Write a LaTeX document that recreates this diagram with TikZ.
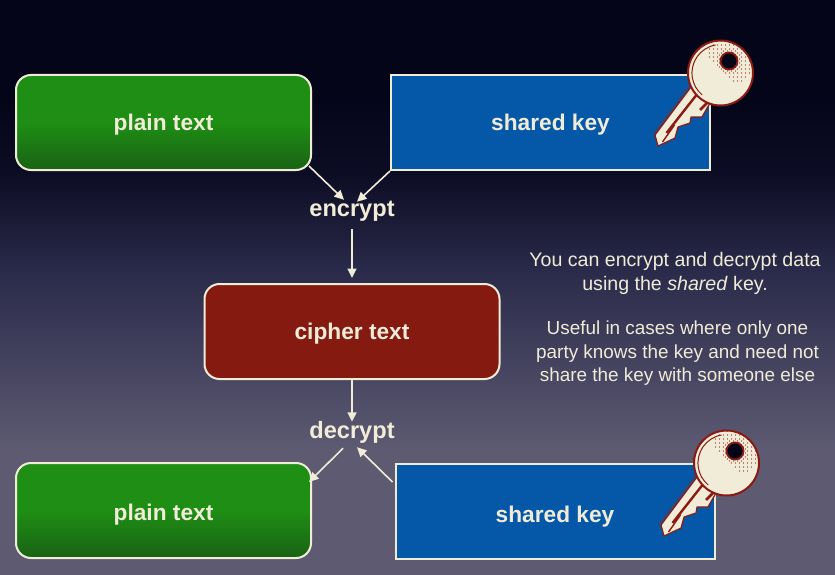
\documentclass[tikz,border=0pt]{standalone}
\usepackage{fontspec}
\setmainfont{Liberation Sans}
\usetikzlibrary{arrows.meta}
\definecolor{cream}{HTML}{F0ECD8}
\definecolor{keyred}{HTML}{8A1A12}
\definecolor{boxred}{HTML}{841A10}
\definecolor{boxblue}{HTML}{0558A8}
\definecolor{bgA}{HTML}{5D5A72}
\definecolor{bgC}{HTML}{2A2A4A}
\definecolor{bgD}{HTML}{0C0C24}
\definecolor{bgE}{HTML}{05051A}
\definecolor{greenT}{HTML}{1E8E14}
\definecolor{greenB}{HTML}{1A6214}
\definecolor{keyshadow}{HTML}{3A4470}
\pgfdeclareverticalshading{bgshade}{100bp}{
 color(0bp)=(bgA);
 color(35.9bp)=(bgA);
 color(51.5bp)=(bgC);
 color(60bp)=(bgD);
 color(66.3bp)=(bgE);
 color(100bp)=(bgE)}
\pgfdeclareverticalshading{greenshade}{100bp}{
 color(0bp)=(greenB);
 color(25bp)=(greenB);
 color(50bp)=(greenT);
 color(100bp)=(greenT)}
\tikzset{
 x=1pt,y=-1pt,
 box/.style={draw=cream,line width=2pt,minimum width=295pt,minimum height=95pt,inner sep=0pt,
   text=cream,font=\fontsize{22.7}{26}\selectfont\bfseries,anchor=center,text height=16pt,text depth=0pt},
 greenbox/.style={box,rounded corners=15pt,shading=greenshade},
 redbox/.style={box,rounded corners=15pt,fill=boxred},
 bluebox/.style={box,minimum width=319pt,fill=boxblue},
 verb/.style={text=cream,font=\fontsize{23.6}{26}\selectfont\bfseries,inner sep=0pt,text height=16pt,text depth=5pt},
 flow/.style={draw=cream,line width=1.6pt,-{Triangle[length=9.5pt,width=9pt]}},
 noteA/.style={text=cream,font=\fontsize{19.6}{23.6}\selectfont,align=center,inner sep=0pt},
 noteB/.style={text=cream,font=\fontsize{18.9}{23.6}\selectfont,align=center,inner sep=0pt},
 keyicon/.pic={
   % blade
   \draw[keyshadow,line width=1.5pt] (-31,13) -- (-67,61);
   \fill[cream,draw=keyred,line width=1.2pt,line join=round]
     (-29.5,14) -- (-65.5,62) -- (-62.5,73) -- (-45.5,65) -- (-42.5,54) -- (-30.5,50) -- (-29.5,44) -- (-18.5,44) -- (-10.5,30) -- cycle;
   \draw[keyred,line width=2.4pt] (-22.5,20) -- (-54,60);
   \draw[keyred,line width=2.6pt] (-11.5,28) -- (-20.5,37);
   \draw[keyred,line width=1.4pt] (-46,52) -- (-58,69);
   % head
   \fill[cream,draw=keyred,line width=2pt] (0,0) circle[radius=32.5];
   \draw[keyred,line width=1pt] (-5,-28) arc[start angle=260,end angle=130,radius=28.5];
   \begin{scope}
     \clip (0,0) circle[radius=32];
     \foreach \i in {-14,...,14}{\foreach \j in {-14,...,14}{
       \pgfmathsetmacro{\dd}{sqrt((\i*2)^2+(\j*2)^2)}
       \pgfmathtruncatemacro{\keep}{(\dd<24)&&(mod(abs(\i+\j),2)==0)&&((\i*2-\j*2)>-20)&&((\dd<13)||(mod(abs(\i),2)==0))}
       \ifnum\keep=1 \fill[keyred] (9+\i*2,-12+\j*2) circle[radius=0.6]; \fi
     }}
   \end{scope}
   \fill[bgE,draw=keyred,line width=1.8pt] (8.5,-12) circle[radius=8.5];
 }
}
\begin{document}
\begin{tikzpicture}
\useasboundingbox (0,0) rectangle (835,575);
\shade[shading=bgshade] (0,0) rectangle (835,575);

\node[greenbox] (plainA) at (163.5,122.5) {plain text};
\node[bluebox]  (sharedA) at (550.5,122.5) {shared key};
\node[redbox]   (cipher) at (352,331.5) {cipher text};
\node[greenbox,text height=19pt] (plainB) at (163.5,510.5) {plain text};
\node[bluebox,text height=22pt]  (sharedB) at (555,511.5) {shared key};
\node[verb] (encrypt) at (352,210.5) {encrypt};
\node[verb] (decrypt) at (352,432.5) {decrypt};

\draw[flow] ([shift={(-3,-5)}]plainA.south east) -- ([shift={(-8,0)}]encrypt.north);
\draw[flow] (sharedA.south west) -- ([shift={(5,2)}]encrypt.north);
\draw[flow] ([shift={(0,8)}]encrypt.south) -- ([shift={(0,-5)}]cipher.north);
\draw[flow] (cipher.south) -- (decrypt.north);
\draw[flow] ([shift={(-9,5)}]decrypt.south) -- ([shift={(-3,20)}]plainB.north east);
\draw[flow] ([shift={(-2,19)}]sharedB.north west) -- ([shift={(5,4)}]decrypt.south);

\pic at (720.5,73) {keyicon};
\pic at (726.5,463) {keyicon};

\node[noteA] (textA) at (675,273.5) {You can encrypt and decrypt data\\using the \textit{shared} key.};
\node[noteB] (textB) at (677.5,353.5) {Useful in cases where only one\\party knows the key and need not\\share the key with someone else};
\end{tikzpicture}
\end{document}
